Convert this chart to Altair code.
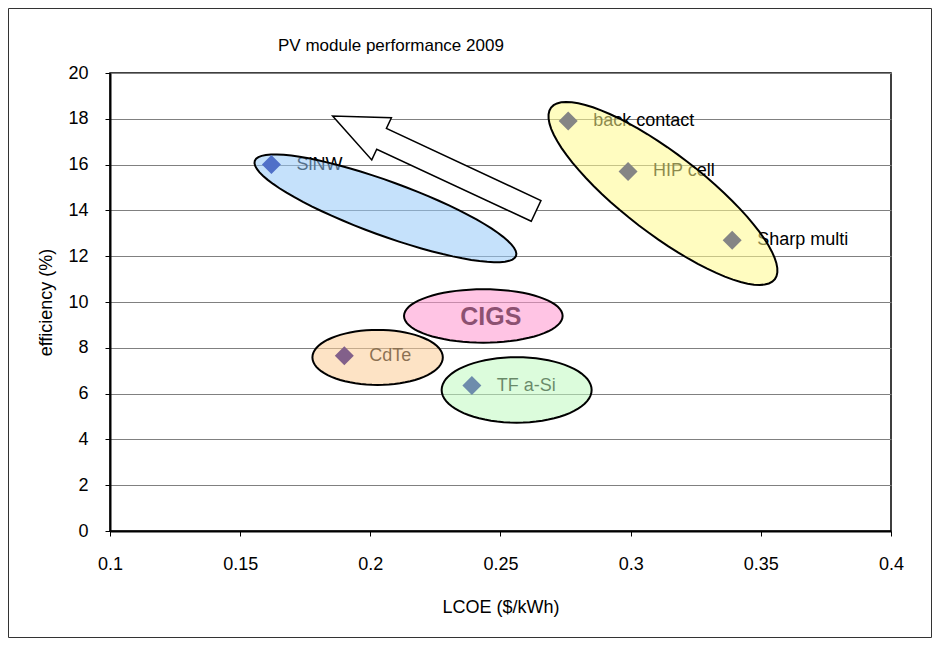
import altair as alt
import numpy as np
import pandas as pd

# ---- data ----
tech = ["SiNW", "back contact", "HIP cell", "Sharp multi", "CdTe", "TF a-Si"]
lcoe = [0.162, 0.276, 0.299, 0.339, 0.190, 0.239]
efficiency = [16.0, 17.9, 15.7, 12.7, 7.65, 6.35]
marker_colors = ["#5070c8", "#858585", "#858585", "#858585", "#82608a", "#6e8cac"]

groups = ["SiNW", "c-Si", "CIGS", "CdTe", "TF a-Si"]
group_lcoe = [0.2058, 0.3124, 0.2434, 0.2028, 0.2562]
group_eff = [14.09, 14.74, 9.39, 7.58, 6.16]
group_fill = ["#96c8f8", "#fffa8c", "#ff94ce", "#fbcc96", "#bffabf"]
semi_major_px = [139, 141, 79.3, 65.2, 75]
semi_minor_px = [27, 40, 26.7, 27.5, 32.7]
tilt_deg = [20, 37.5, 0, 0, 0]

cigs_text = ["CIGS"]
cigs_lcoe = [0.2463]
cigs_eff = [9.34]

arrow_lcoe = [0.2246]
arrow_eff = [16.05]
arrow_angle = [205]
arrow_len_px = 224.5

x_ticks = [0.1, 0.15, 0.2, 0.25, 0.3, 0.35, 0.4]
y_ticks = [0, 2, 4, 6, 8, 10, 12, 14, 16, 18, 20]

FONT = "Liberation Sans"
W, H = 781, 458

# ---- shapes ----
def ellipse_path(ratio, n=72):
    t = np.linspace(0, 2 * np.pi, n, endpoint=False)
    pts = [f"{np.cos(a):.4f},{ratio * np.sin(a):.4f}" for a in t]
    return "M" + " L".join(pts) + " Z"

arrow_path = ("M-1,-0.102 L0.519,-0.102 L0.519,-0.207 L1,0 L0.519,0.207 "
              "L0.519,0.102 L-1,0.102 Z")

pts_df = pd.DataFrame({"tech": tech, "lcoe": lcoe, "eff": efficiency, "col": marker_colors})
ell_df = pd.DataFrame({
    "group": groups, "lcoe": group_lcoe, "eff": group_eff, "fill": group_fill,
    "path": [ellipse_path(b / a) for a, b in zip(semi_major_px, semi_minor_px)],
    "size": [(2 * a) ** 2 for a in semi_major_px],
    "angle": tilt_deg,
})
cigs_df = pd.DataFrame({"txt": cigs_text, "lcoe": cigs_lcoe, "eff": cigs_eff})
arrow_df = pd.DataFrame({"lcoe": arrow_lcoe, "eff": arrow_eff, "angle": arrow_angle,
                         "path": [arrow_path], "size": [arrow_len_px ** 2]})
one = pd.DataFrame({"a": [0]})

xscale = alt.Scale(domain=[0.1, 0.4], nice=False, zero=False)
yscale = alt.Scale(domain=[0, 20], nice=False, zero=True)

xaxis = alt.Axis(values=x_ticks, format=".2~f", title="LCOE ($/kWh)", grid=False,
                 tickSize=5, tickColor="black", domainColor="black", domainWidth=2,
                 labelFont=FONT, labelFontSize=18, labelColor="black", labelPadding=19,
                 labelFlush=False,
                 titleFont=FONT, titleFontSize=18, titleFontWeight="normal",
                 titleColor="black", titleY=76, titleBaseline="middle")
yaxis = alt.Axis(values=y_ticks, format="d", title="efficiency (%)", grid=True,
                 gridColor="#808080", gridWidth=1,
                 tickSize=5, tickColor="black", domainColor="black", domainWidth=2,
                 labelFont=FONT, labelFontSize=18, labelColor="black", labelPadding=17,
                 labelFlush=False,
                 titleFont=FONT, titleFontSize=18, titleFontWeight="normal",
                 titleColor="black", titleX=-64, titleY=H / 2, titleAlign="center",
                 titleBaseline="middle", titleAngle=-90)

X = alt.X("lcoe:Q", scale=xscale, axis=xaxis)
Y = alt.Y("eff:Q", scale=yscale, axis=yaxis)

labels = alt.Chart(pts_df).mark_text(
    align="left", baseline="middle", dx=25, font=FONT, fontSize=18, color="black"
).encode(x=X, y=Y, text="tech:N")

cigs = alt.Chart(cigs_df).mark_text(
    align="center", baseline="middle", font=FONT, fontSize=25, fontWeight="bold", color="black"
).encode(x=X, y=Y, text="txt:N")

ellipses = alt.Chart(ell_df).mark_point(
    filled=True, opacity=1, fillOpacity=0.55, stroke="black", strokeWidth=2, strokeOpacity=1
).encode(
    x=X, y=Y,
    shape=alt.Shape("path:N", scale=None),
    size=alt.Size("size:Q", scale=None),
    angle=alt.Angle("angle:Q", scale=None),
    fill=alt.Fill("fill:N", scale=None),
)

arrow = alt.Chart(arrow_df).mark_point(
    filled=True, opacity=1, fill="white", fillOpacity=1, stroke="black", strokeWidth=1.5
).encode(
    x=X, y=Y,
    shape=alt.Shape("path:N", scale=None),
    size=alt.Size("size:Q", scale=None),
    angle=alt.Angle("angle:Q", scale=None),
)

diamonds = alt.Chart(pts_df).mark_point(
    shape="diamond", filled=True, size=361, opacity=1
).encode(x=X, y=Y, fill=alt.Fill("col:N", scale=None))

title = alt.Chart(one).mark_text(
    align="left", baseline="middle", font=FONT,
    fontSize=17, color="black", text="PV module performance 2009"
).encode(x=alt.value(168), y=alt.value(-27))

border = alt.Chart(one).mark_rect(
    fill=None, stroke="#333333", strokeWidth=1
).encode(x=alt.value(-101.5), x2=alt.value(821.5), y=alt.value(-64.5), y2=alt.value(564.5))

chart = alt.layer(labels, cigs, ellipses, arrow, diamonds, title, border).properties(
    width=W, height=H,
    autosize=alt.AutoSizeParams(type="none"),
    padding={"left": 102, "top": 65, "right": 41, "bottom": 107},
    background="white",
).configure_view(stroke="black", strokeWidth=1.5)

chart.save("out.html", embed_options={"renderer": "svg", "actions": False})
